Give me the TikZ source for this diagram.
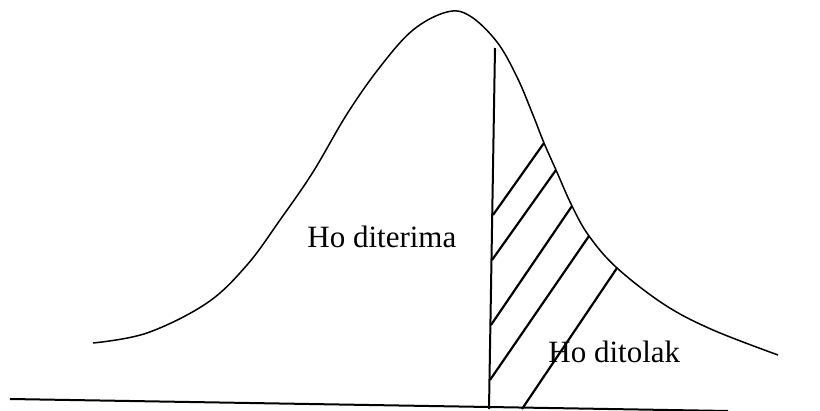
\documentclass[tikz,border=0pt]{standalone}
\usepackage{fontspec}
\setmainfont{Liberation Serif}
\usetikzlibrary{positioning}

\begin{document}
\begin{tikzpicture}[x=0.5pt,y=-0.5pt,
    curveline/.style={line width=0.75pt,line join=round},
    hatch/.style={line width=1.1pt},
    txt/.style={font=\fontsize{15.5}{18}\selectfont,inner sep=0pt,anchor=base west}]
    \useasboundingbox (0,0) rectangle (820,411);
    % points on the curve where the hatching ends
    \coordinate (c1) at (544,143);
    \coordinate (c2) at (556,170);
    \coordinate (c3) at (572,206);
    \coordinate (c4) at (589,236);
    \coordinate (c5) at (617,268);
    % critical value line and baseline
    \coordinate (vtop) at (495,48);
    \coordinate (vbot) at (489,409);
    \coordinate (bl) at (10,399);
    \coordinate (br) at (728,411);
    \coordinate (h1) at (493,215);
    \coordinate (h2) at (492,260);
    \coordinate (h3) at (491,325);
    \coordinate (h4) at (490,380);
    \coordinate (h5) at (522,409);
    \draw[curveline] plot[smooth,tension=0.6] coordinates {(93,343) (147,333) (207,303) (247,265)
        (280,220) (313,172) (347,114) (380,67) (413,30) (447,12) (470,16) (497,42) (517,77)
        (533,115) (c1) (c2) (c3) (c4) (c5) (665,305) (713,330) (778,355)};
    \draw[line width=1pt] (bl) -- (br);
    \draw[line width=1pt] (vtop) -- (vbot);
    \draw[hatch] (h1) -- (c1);
    \draw[hatch] (h2) -- (c2);
    \draw[hatch] (h3) -- (c3);
    \draw[hatch] (h4) -- (c4);
    \draw[hatch] (h5) -- (c5);
    \node[txt] (terima) at (307,248) {Ho diterima};
    \node[txt] (tolak) at (548,363) {Ho ditolak};
\end{tikzpicture}
\end{document}
